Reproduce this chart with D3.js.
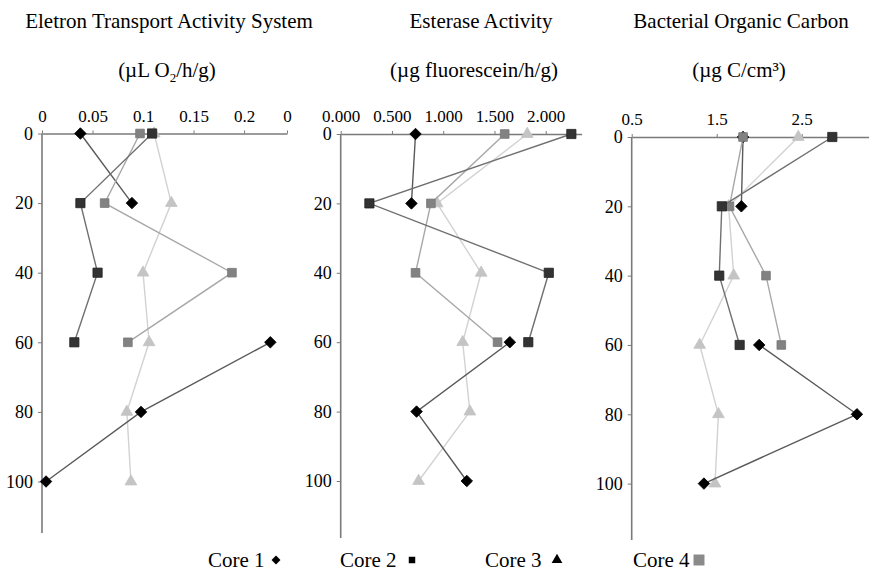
<!DOCTYPE html>
<html lang="en">
<head>
  <meta charset="UTF-8">
  <title>Core profiles</title>
  <script src="https://d3js.org/d3.v7.min.js"></script>
  <style>
    * { margin: 0; padding: 0; }
    body { background: #fff; }
    svg { display: block; }
    svg text { font-family: "Liberation Serif", "DejaVu Serif", "Times New Roman", serif; }
  </style>
</head>
<body>
  <div id="chart"></div>
  <script>
    // depths (cm) and the four cores
    var depths = [0, 20, 40, 60, 80, 100];
    var cores = ['Core 1', 'Core 2', 'Core 3', 'Core 4'];
    var depthTicks = [0, 20, 40, 60, 80, 100];

    // Eletron Transport Activity System
    var ets1 = [0.038, 0.089, null, 0.226, 0.098, 0.004];
    var ets2 = [0.109, 0.038, 0.055, 0.032, null, null];
    var ets3 = [0.111, 0.128, 0.100, 0.106, 0.084, 0.088];
    var ets4 = [0.097, 0.062, 0.188, 0.085, null, null];
    var etsTicks = [0, 0.05, 0.1, 0.15, 0.2, 0.2425];
    var etsLabels = ['0', '0.05', '0.1', '0.15', '0.2', '0'];

    // Esterase Activity
    var est1 = [0.73, 0.69, null, 1.65, 0.74, 1.23];
    var est2 = [2.25, 0.28, 2.03, 1.83, null, null];
    var est3 = [1.82, 0.94, 1.37, 1.19, 1.26, 0.76];
    var est4 = [1.60, 0.88, 0.73, 1.53, null, null];
    var estTicks = [0, 0.5, 1, 1.5, 2];
    var estLabels = ['0.000', '0.500', '1.000', '1.500', '2.000'];

    // Bacterial Organic Carbon
    var boc1 = [1.81, 1.79, null, 2.00, 3.15, 1.35];
    var boc2 = [2.86, 1.56, 1.53, 1.77, null, null];
    var boc3 = [2.46, 1.64, 1.70, 1.30, 1.52, 1.48];
    var boc4 = [1.81, 1.65, 2.08, 2.26, null, null];
    var bocTicks = [0.5, 1.5, 2.5];
    var bocLabels = ['0.5', '1.5', '2.5'];

    var width = 869, height = 573;

    var svg = d3.select('#chart')
      .append('svg')
      .attr('width', width)
      .attr('height', height);

    // style per core (marker, fill, line); diamonds are rotated squares
    var coreStyle = [
      { shape: d3.symbolSquare, rot: 45, size: 66, fill: '#000', stroke: '#000', line: '#5a5a5a' },
      { shape: d3.symbolSquare, rot: 0, size: 85, fill: '#333', stroke: '#222', line: '#707070' },
      { shape: d3.symbolTriangle, rot: 0, size: 60, fill: '#c4c4c4', stroke: '#c4c4c4', line: '#d2d2d2' },
      { shape: d3.symbolSquare, rot: 0, size: 75, fill: '#828282', stroke: '#777', line: '#a8a8a8' }
    ];
    // drawing order (bottom to top)
    var drawOrder = [2, 0, 3, 1];

    var panels = [
      {
        title: 'Eletron Transport Activity System', unit: 'ets',
        series: [ets1, ets2, ets3, ets4], domain: [0, 0.2425], ticks: etsTicks, labels: etsLabels,
        x0: 42, x1: 287, y0: 133.5, yUnit: 3.48, yEnd: 533, titleX: 169, subX: 167
      },
      {
        title: 'Esterase Activity', unit: 'est',
        series: [est1, est2, est3, est4], domain: [0, 2.35], ticks: estTicks, labels: estLabels,
        x0: 340.7, x1: 581.6, y0: 134, yUnit: 3.47, yEnd: 538, titleX: 481, subX: 474
      },
      {
        title: 'Bacterial Organic Carbon', unit: 'boc',
        series: [boc1, boc2, boc3, boc4], domain: [0.5, 3.3], ticks: bocTicks, labels: bocLabels,
        x0: 631.7, x1: 869.7, y0: 137, yUnit: 3.466, yEnd: 540, titleX: 741, subX: 739
      }
    ];

    var axisColor = '#7a7a7a';

    panels.forEach(function (p) {
      var g = svg.append('g');

      var xScale = d3.scaleLinear().domain(p.domain).range([p.x0, p.x1]);
      var yScale = d3.scaleLinear()
        .domain([0, 115])
        .range([p.y0, p.y0 + 115 * p.yUnit]);

      // titles
      g.append('text')
        .attr('x', p.titleX).attr('y', 28)
        .attr('text-anchor', 'middle')
        .style('font-size', '21px')
        .text(p.title);

      var sub = g.append('text')
        .attr('x', p.subX).attr('y', 77)
        .attr('text-anchor', 'middle')
        .style('font-size', '21px');
      if (p.unit == 'ets') {
        sub.append('tspan').text('(\u00b5L O');
        sub.append('tspan').attr('dy', 5).style('font-size', '13px').text('2');
        sub.append('tspan').attr('dy', -5).text('/h/g)');
      } else if (p.unit == 'est') {
        sub.text('(\u00b5g fluorescein/h/g)');
      } else {
        sub.text('(\u00b5g C/cm\u00b3)');
      }

      // x axis on top
      var xAxis = d3.axisTop(xScale)
        .tickValues(p.ticks)
        .tickSize(3)
        .tickSizeOuter(0)
        .tickFormat(function (d, i) { return p.labels[i]; });

      var xg = g.append('g')
        .attr('transform', 'translate(0,' + p.y0 + ')')
        .call(xAxis)
        .attr('font-family', null);
      xg.select('.domain').attr('stroke', axisColor).attr('stroke-width', 1.6);
      xg.selectAll('.tick line').attr('stroke', axisColor);
      xg.selectAll('.tick text')
        .attr('fill', '#000')
        .attr('dy', '-0.35em')
        .style('font-size', '17px');

      // y axis (depth)
      var yAxis = d3.axisLeft(yScale)
        .tickValues(depthTicks)
        .tickSize(4)
        .tickSizeOuter(0);

      var yg = g.append('g')
        .attr('transform', 'translate(' + p.x0 + ',0)')
        .call(yAxis)
        .attr('font-family', null);
      yg.select('.domain')
        .attr('d', 'M0,' + p.y0 + 'V' + p.yEnd)
        .attr('stroke', axisColor).attr('stroke-width', 1.6);
      yg.selectAll('.tick line').attr('stroke', axisColor);
      yg.selectAll('.tick text')
        .attr('fill', '#000')
        .attr('x', -9)
        .style('font-size', '18px');

      var line = d3.line()
        .defined(function (d) { return d[0] != null; })
        .x(function (d) { return xScale(d[0]); })
        .y(function (d) { return yScale(d[1]); });

      drawOrder.forEach(function (ci) {
        var st = coreStyle[ci];
        var pts = p.series[ci].map(function (v, i) { return [v, depths[i]]; });

        g.append('path')
          .attr('d', line(pts))
          .attr('fill', 'none')
          .attr('stroke', st.line)
          .attr('stroke-width', 1.4);

        g.selectAll('.m' + ci)
          .data(pts.filter(function (d) { return d[0] != null; }))
          .enter()
          .append('path')
          .attr('class', 'm' + ci)
          .attr('d', d3.symbol().type(st.shape).size(st.size))
          .attr('transform', function (d) {
            return 'translate(' + xScale(d[0]) + ',' + yScale(d[1]) + ') rotate(' + st.rot + ')';
          })
          .attr('fill', st.fill)
          .attr('stroke', st.stroke)
          .attr('stroke-width', 0.8);
      });
    });

    // legend
    var legendX = [208, 340, 485, 633];
    var legendSym = [
      { shape: d3.symbolSquare, rot: 45, size: 40, fill: '#000', dx: 68 },
      { shape: d3.symbolSquare, rot: 0, size: 42, fill: '#000', dx: 72 },
      { shape: d3.symbolTriangle, rot: 0, size: 50, fill: '#000', dx: 72 },
      { shape: d3.symbolSquare, rot: 0, size: 120, fill: '#8a8a8a', dx: 66 }
    ];

    var legend = svg.selectAll('.legend')
      .data(cores)
      .enter()
      .append('g')
      .attr('class', 'legend')
      .attr('transform', function (d, i) { return 'translate(' + legendX[i] + ',567)'; });

    legend.append('text')
      .style('font-size', '21px')
      .text(function (d) { return d; });

    legend.append('path')
      .attr('d', function (d, i) { return d3.symbol().type(legendSym[i].shape).size(legendSym[i].size)(); })
      .attr('transform', function (d, i) {
        return 'translate(' + legendSym[i].dx + ',-7) rotate(' + legendSym[i].rot + ')';
      })
      .attr('fill', function (d, i) { return legendSym[i].fill; });
  </script>
</body>
</html>
